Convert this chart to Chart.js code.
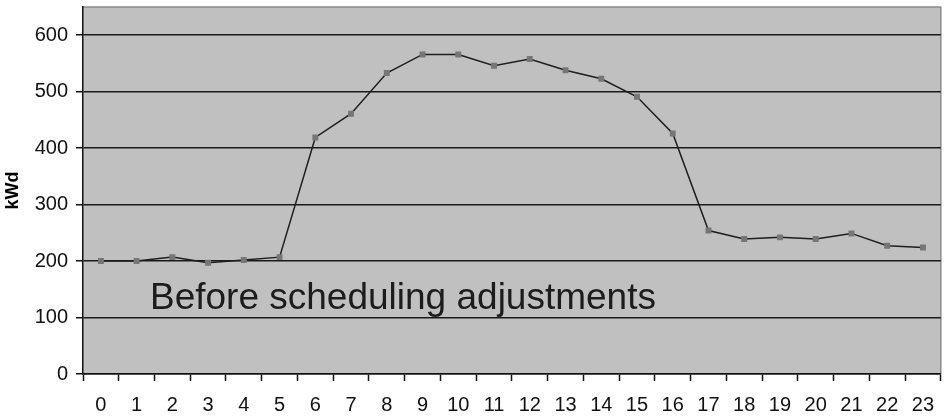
<!DOCTYPE html>
<html>
<head>
<meta charset="utf-8">
<script src="https://cdn.jsdelivr.net/npm/chart.js@4/dist/chart.umd.min.js"></script>
<style>
  html, body { margin: 0; padding: 0; background: #ffffff; }
  #wrap { width: 945px; height: 420px; }
</style>
</head>
<body>
<div id="wrap"><canvas id="c" width="945" height="420"></canvas></div>
<script>
// Hour of day
const hours = ['0','1','2','3','4','5','6','7','8','9','10','11','12','13','14','15','16','17','18','19','20','21','22','23'];
// Demand in kWd for each hour
const demand = [200, 200, 207, 197, 202, 207, 419, 461, 533, 566, 566, 546, 558, 538, 523, 491, 426, 254, 239, 242, 239, 249, 227, 224];
// Value axis
const yMin = 0;
const yMax = 650;
const yStep = 100;
const axisTitle = 'kWd';
const noteText = 'Before scheduling adjustments';

const tickFont = { family: "'Liberation Sans Narrow', 'Liberation Sans', Arial, sans-serif", size: 20 };

// Gray plot background with a light frame on the top and right sides
const plotFrame = {
  id: 'plotFrame',
  beforeDraw(chart) {
    const { ctx, chartArea: a } = chart;
    ctx.save();
    ctx.fillStyle = '#c0c0c0';
    ctx.fillRect(a.left, a.top, a.right - a.left, a.bottom - a.top);
    ctx.strokeStyle = '#8a8a8a';
    ctx.lineWidth = 1.5;
    ctx.beginPath();
    ctx.moveTo(a.left, a.top);
    ctx.lineTo(a.right, a.top);
    ctx.lineTo(a.right, a.bottom);
    ctx.stroke();
    ctx.restore();
  }
};

// Caption written inside the plot
const caption = {
  id: 'caption',
  afterDatasetsDraw(chart) {
    const { ctx, chartArea: a, scales } = chart;
    ctx.save();
    ctx.font = "37px 'Liberation Sans', Arial, sans-serif";
    ctx.fillStyle = '#1c1c1c';
    ctx.textBaseline = 'alphabetic';
    ctx.textAlign = 'left';
    ctx.fillText(noteText, a.left + 67, scales.y.getPixelForValue(115));
    ctx.restore();
  }
};

new Chart(document.getElementById('c'), {
  type: 'line',
  data: {
    labels: hours,
    datasets: [{
      data: demand,
      borderColor: '#1e1e1e',
      borderWidth: 1.5,
      tension: 0,
      pointStyle: 'rect',
      pointRadius: 4.2,
      pointHoverRadius: 4.2,
      pointBackgroundColor: '#767676',
      pointBorderWidth: 0
    }]
  },
  options: {
    responsive: false,
    animation: false,
    devicePixelRatio: 1,
    layout: { padding: { top: 7, right: 3, left: 0, bottom: 0 } },
    plugins: { legend: { display: false }, tooltip: { enabled: false } },
    scales: {
      x: {
        type: 'category',
        offset: true,
        grid: {
          offset: true,
          drawOnChartArea: false,
          drawTicks: true,
          tickLength: 7,
          tickColor: '#111',
          tickWidth: 1.5
        },
        border: { color: '#111', width: 1.5 },
        ticks: {
          color: '#111',
          padding: 12,
          maxRotation: 0,
          autoSkip: false,
          font: tickFont
        },
        afterFit(s) { s.height = 46; s.paddingLeft = 0; s.paddingRight = 0; }
      },
      y: {
        min: yMin,
        max: yMax,
        grid: {
          color: '#1a1a1a',
          lineWidth: 1.5,
          tickLength: 7,
          tickColor: '#111'
        },
        border: { color: '#111', width: 1.5 },
        ticks: {
          stepSize: yStep,
          includeBounds: false,
          color: '#111',
          padding: 8,
          font: tickFont
        },
        title: {
          display: true,
          text: axisTitle,
          color: '#000',
          padding: { top: 2, bottom: 0 },
          font: { family: "'Liberation Sans', Arial, sans-serif", size: 18, weight: 'bold' }
        },
        afterFit(s) { s.width = 83; s.paddingTop = 0; s.paddingBottom = 0; }
      }
    }
  },
  plugins: [plotFrame, caption]
});
</script>
</body>
</html>
